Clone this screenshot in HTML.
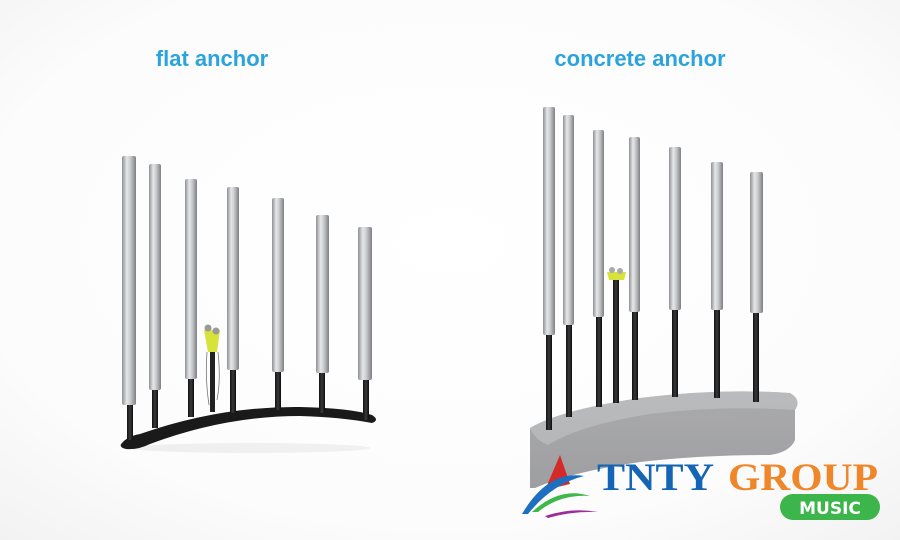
<!DOCTYPE html>
<html><head><meta charset="utf-8"><style>
html,body{margin:0;padding:0;background:#fff}
svg{display:block}
</style></head><body>
<svg width="900" height="540" viewBox="0 0 900 540" xmlns="http://www.w3.org/2000/svg">
<defs>
<linearGradient id="al" x1="0" x2="1" y1="0" y2="0">
<stop offset="0" stop-color="#8e9094"/><stop offset="0.35" stop-color="#e6e7e9"/><stop offset="0.6" stop-color="#c9cacc"/><stop offset="1" stop-color="#7d7f83"/>
</linearGradient>
<linearGradient id="bk" x1="0" x2="1"><stop offset="0" stop-color="#111"/><stop offset="0.5" stop-color="#3a3a3c"/><stop offset="1" stop-color="#0c0c0c"/></linearGradient>
<linearGradient id="cc" x1="0" x2="0" y1="0" y2="1"><stop offset="0" stop-color="#a9aaac" stop-opacity="0.75"/><stop offset="1" stop-color="#8b8c8f" stop-opacity="0.8"/></linearGradient>
<radialGradient id="bg" cx="0.5" cy="0.45" r="0.75"><stop offset="0" stop-color="#fff"/><stop offset="0.7" stop-color="#fcfcfc"/><stop offset="1" stop-color="#f2f2f3"/></radialGradient>
</defs>
<rect width="900" height="540" fill="url(#bg)"/>
<text x="212" y="66" text-anchor="middle" font-family="Liberation Sans, sans-serif" font-weight="bold" font-size="22" fill="#2ba3dd">flat anchor</text>
<text x="640" y="66" text-anchor="middle" font-family="Liberation Sans, sans-serif" font-weight="bold" font-size="22" fill="#2ba3dd">concrete anchor</text>

<!-- left base plate -->
<ellipse cx="250" cy="448" rx="120" ry="5" fill="#000" opacity="0.05"/>
<path d="M122 443 Q128 436 140 434 Q220 406 300 407 Q350 408 372 415 Q380 420 372 423 Q340 417 300 416 Q225 416 150 444 Q138 450 126 449 Q118 447 122 443Z" fill="#1a1a1a"/>
<!-- left tubes -->
<g>
<rect x="127" y="405" width="6" height="35" fill="url(#bk)"/>
<rect x="122" y="156" width="14" height="249" rx="2" fill="url(#al)"/>
<rect x="152" y="390" width="6" height="38" fill="url(#bk)"/>
<rect x="149" y="164" width="12" height="226" rx="2" fill="url(#al)"/>
<rect x="188" y="379" width="6" height="38" fill="url(#bk)"/>
<rect x="185" y="179" width="12" height="200" rx="2" fill="url(#al)"/>
<rect x="230" y="370" width="6" height="43" fill="url(#bk)"/>
<rect x="227" y="187" width="12" height="183" rx="2" fill="url(#al)"/>
<rect x="275" y="372" width="6" height="38" fill="url(#bk)"/>
<rect x="272" y="198" width="12" height="174" rx="2" fill="url(#al)"/>
<rect x="319" y="373" width="6" height="40" fill="url(#bk)"/>
<rect x="316" y="215" width="13" height="158" rx="2" fill="url(#al)"/>
<rect x="363" y="380" width="6" height="40" fill="url(#bk)"/>
<rect x="358" y="227" width="14" height="153" rx="2" fill="url(#al)"/>
</g>
<!-- left device -->
<rect x="210" y="340" width="5" height="72" fill="#222"/>
<path d="M204 330 L220 330 L217 352 L208 352Z" fill="#d7e23a"/>
<circle cx="208" cy="328" r="3.5" fill="#999"/><circle cx="216" cy="331" r="3.5" fill="#999"/>
<path d="M207 352 Q205 380 209 405 M218 352 Q221 380 217 400" stroke="#777" stroke-width="0.8" fill="none"/>

<!-- concrete block -->
<path d="M530 428 Q560 410 640 398 Q720 388 790 393 Q802 400 795 410 L795 440 Q790 452 770 455 Q700 455 640 462 Q570 472 535 488 L530 488Z" fill="url(#cc)"/>
<path d="M530 428 Q560 410 640 398 Q720 388 790 393 Q802 400 795 410 Q720 405 650 414 Q580 425 548 445 Q535 440 530 428Z" fill="#b8b9bb" opacity="0.7"/>
<!-- right tubes -->
<g>
<rect x="546" y="335" width="6" height="95" fill="url(#bk)"/>
<rect x="543" y="107" width="12" height="228" rx="2" fill="url(#al)"/>
<rect x="566" y="325" width="6" height="92" fill="url(#bk)"/>
<rect x="563" y="115" width="11" height="210" rx="2" fill="url(#al)"/>
<rect x="596" y="317" width="6" height="90" fill="url(#bk)"/>
<rect x="593" y="130" width="11" height="187" rx="2" fill="url(#al)"/>
<rect x="613" y="280" width="6" height="123" fill="url(#bk)"/>
<path d="M607 272 L626 272 L624 280 L609 280Z" fill="#d7e23a"/>
<circle cx="612" cy="270" r="3" fill="#aaa"/><circle cx="620" cy="271" r="3" fill="#aaa"/>
<rect x="632" y="312" width="6" height="88" fill="url(#bk)"/>
<rect x="629" y="137" width="11" height="175" rx="2" fill="url(#al)"/>
<rect x="672" y="310" width="6" height="87" fill="url(#bk)"/>
<rect x="669" y="147" width="12" height="163" rx="2" fill="url(#al)"/>
<rect x="714" y="310" width="6" height="88" fill="url(#bk)"/>
<rect x="711" y="162" width="12" height="148" rx="2" fill="url(#al)"/>
<rect x="753" y="313" width="6" height="89" fill="url(#bk)"/>
<rect x="750" y="172" width="13" height="141" rx="2" fill="url(#al)"/>
</g>
<!-- concrete front translucent overlay -->
<path d="M530 428 Q535 440 548 445 Q580 425 650 414 Q720 405 795 410 L795 440 Q790 452 770 455 Q700 455 640 462 Q570 472 535 488 L530 488Z" fill="#9a9b9e" opacity="0.55"/>

<!-- logo -->
<path d="M545 490 L560 455 L570 484Z" fill="#d42a2a"/>
<path d="M522 514 Q548 470 584 476 Q552 484 528 514Z" fill="#1f6fc0"/>
<path d="M532 512 Q560 486 590 496 Q560 494 538 512Z" fill="#3db84a"/>
<path d="M545 516 Q572 507 598 512 Q572 511 548 518Z" fill="#9c2c97"/>
<text x="597" y="490" font-family="Liberation Serif, serif" font-weight="bold" font-size="39" fill="#1565b4" textLength="117" lengthAdjust="spacingAndGlyphs">TNTY</text>
<text x="728" y="490" font-family="Liberation Serif, serif" font-weight="bold" font-size="39" fill="#f0862a" textLength="150" lengthAdjust="spacingAndGlyphs">GROUP</text>
<rect x="780" y="494" width="100" height="26" rx="13" fill="#3cb54a"/>
<text x="830" y="514" text-anchor="middle" font-family="DejaVu Sans, sans-serif" font-weight="bold" font-size="17" fill="#fff">MUSIC</text>
</svg>
</body></html>
